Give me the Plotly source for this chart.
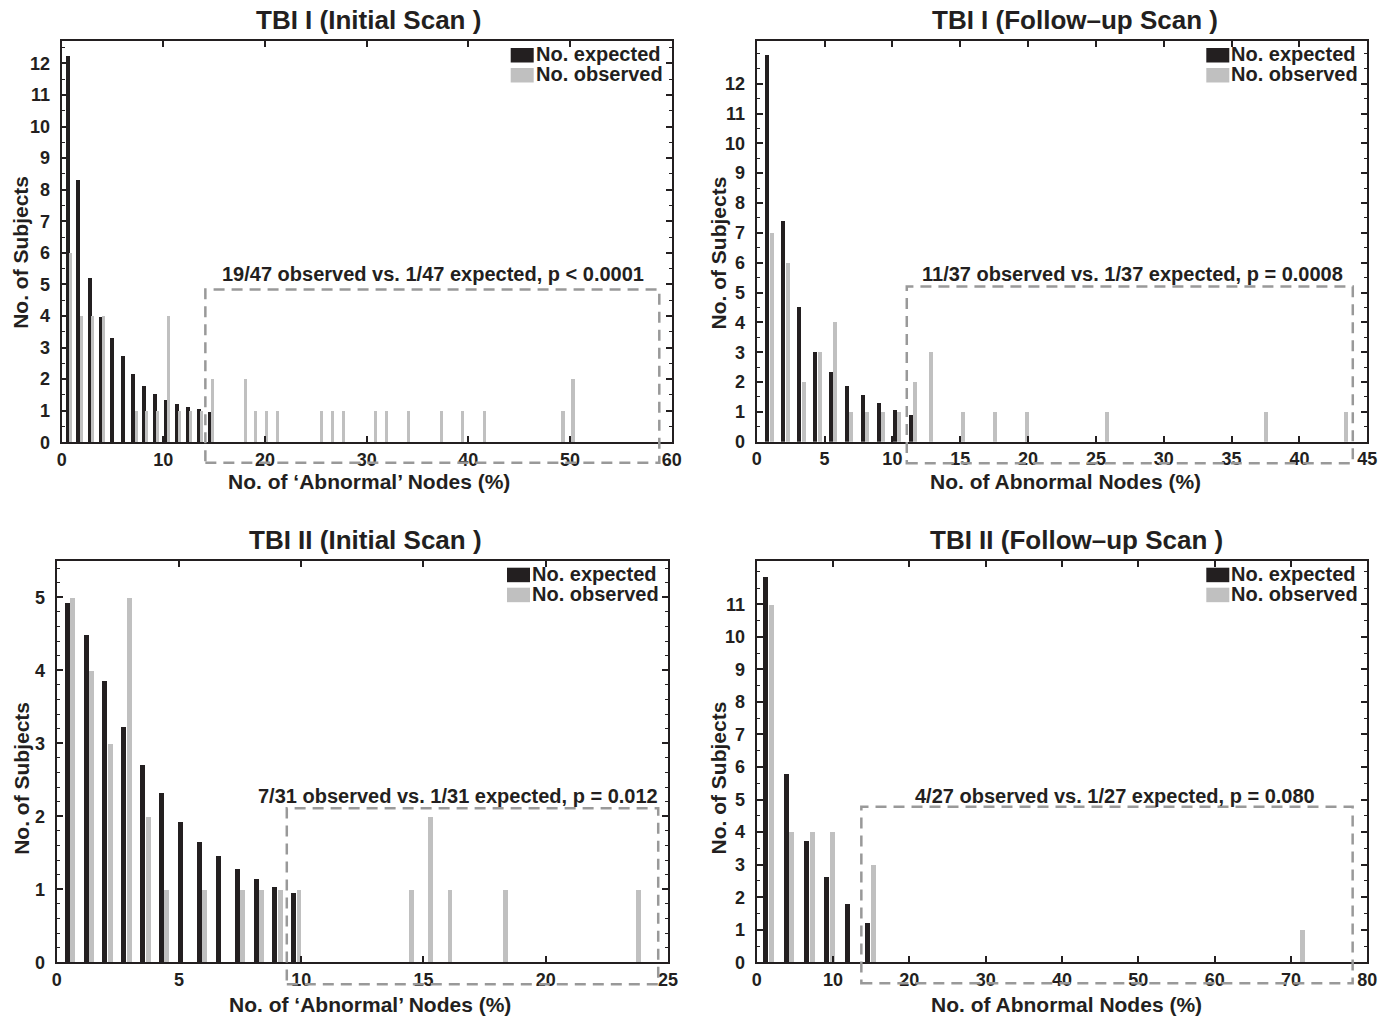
import plotly.graph_objects as go

W, H = 1391, 1017

EXP_COLOR = "#231f20"
OBS_COLOR = "#c0c0c0"
BOX_COLOR = "#999999"
AXIS_COLOR = "#231f20"
FONT = "Liberation Sans, Arial, Helvetica, sans-serif"

# ---- TBI I, initial scan (n = 47) ----
a_exp_x = [0.59, 1.61, 2.72, 3.80, 4.88, 5.97, 6.95, 8.03, 9.11, 10.20, 11.28, 12.36, 13.44, 14.52]
a_exp_y = [12.23, 8.31, 5.20, 3.97, 3.30, 2.73, 2.16, 1.78, 1.53, 1.34, 1.21, 1.12, 1.06, 0.96]
a_obs_x = [0.82, 1.90, 2.98, 4.10, 7.31, 8.29, 9.38, 10.46, 11.54, 12.62, 13.74, 14.82,
           18.06, 19.05, 20.13, 21.21, 25.51, 26.62, 27.70, 30.82, 31.90, 34.06, 37.31,
           39.41, 41.54, 49.28, 50.26]
a_obs_y = [6, 4, 4, 4, 1, 1, 1, 4, 1, 1, 1, 2, 2, 1, 1, 1, 1, 1, 1, 1, 1, 1, 1, 1, 1, 1, 2]

# ---- TBI I, follow-up scan (n = 37) ----
b_exp_x = [0.74, 1.92, 3.10, 4.28, 5.45, 6.63, 7.81, 8.99, 10.17, 11.35]
b_exp_y = [12.96, 7.40, 4.51, 3.01, 2.34, 1.87, 1.56, 1.30, 1.06, 0.89]
b_obs_x = [1.11, 2.28, 3.46, 4.64, 5.75, 6.93, 8.11, 9.29, 10.47, 11.65, 12.83,
           15.18, 17.54, 19.90, 25.80, 37.52, 43.39]
b_obs_y = [7, 6, 2, 3, 4, 1, 1, 1, 1, 2, 3, 1, 1, 1, 1, 1, 1]

# ---- TBI II, initial scan (n = 31) ----
c_exp_x = [0.44, 1.21, 1.95, 2.72, 3.50, 4.27, 5.05, 5.82, 6.60, 7.37, 8.15, 8.88, 9.66]
c_exp_y = [4.92, 4.48, 3.85, 3.23, 2.71, 2.32, 1.92, 1.65, 1.46, 1.28, 1.14, 1.03, 0.96]
c_obs_x = [0.64, 1.41, 2.19, 2.97, 3.74, 4.48, 6.03, 7.58, 8.35, 9.13, 9.90,
           14.50, 15.28, 16.07, 18.35, 23.77]
c_obs_y = [5, 4, 3, 5, 2, 1, 1, 1, 1, 1, 1, 1, 2, 1, 1, 1]

# ---- TBI II, follow-up scan (n = 27) ----
d_exp_x = [1.14, 3.89, 6.51, 9.13, 11.88, 14.50]
d_exp_y = [11.84, 5.79, 3.73, 2.62, 1.79, 1.21]
d_obs_x = [1.92, 4.54, 7.29, 9.91, 15.28, 71.49]
d_obs_y = [11, 4, 4, 4, 3, 1]

titles = ["TBI I (Initial Scan )", "TBI I (Follow\u2013up Scan )",
          "TBI II (Initial Scan )", "TBI II (Follow\u2013up Scan )"]
x_titles = ["No. of \u2018Abnormal\u2019 Nodes (%)", "No. of Abnormal Nodes (%)",
            "No. of \u2018Abnormal\u2019 Nodes (%)", "No. of Abnormal Nodes (%)"]
y_title = "No. of Subjects"
test_labels = ["19/47 observed vs. 1/47 expected, p &lt; 0.0001",
               "11/37 observed vs. 1/37 expected, p = 0.0008",
               "7/31 observed vs. 1/31 expected, p = 0.012",
               "4/27 observed vs. 1/27 expected, p = 0.080"]

# tail region boxes in data units: x0, x1, y0, y1
tail_boxes = [(14.13, 58.78, -0.65, 4.84),
              (11.06, 43.93, -0.72, 5.20),
              (9.41, 24.60, -0.30, 2.11),
              (13.71, 78.08, -0.645, 4.78)]
# label anchor (x centre, y centre) in data units
label_pos = [(36.55, 5.33), (27.70, 5.61), (16.43, 2.28), (46.9, 5.12)]

x_ranges = [(0, 60), (0, 45), (0, 25), (0, 80)]
y_ranges = [(0, 12.71), (0, 13.43), (0, 5.5), (0, 12.34)]
x_ticks = [list(range(0, 61, 10)), list(range(0, 46, 5)),
           list(range(0, 26, 5)), list(range(0, 81, 10))]
y_ticks = [list(range(0, 13)), list(range(0, 13)), list(range(0, 6)), list(range(0, 12))]
y_minor = [0.5, 0.5, 0.2, 0.5]

exp_widths = [0.38, 0.31, 0.20, 0.64]
obs_widths = [0.34, 0.29, 0.19, 0.60]

# plot-area boxes in pixels (left, top, right, bottom)
boxes_px = [(61.7, 41.0, 671.7, 442.3),
            (756.7, 41.0, 1367.3, 441.7),
            (56.7, 560.7, 668.0, 962.3),
            (756.7, 560.7, 1367.3, 962.3)]
# text placement in pixels
title_cx = [368.3, 1074.8, 365.8, 1076.7]
xtitle_c = [(369.2, 481.7), (1065.5, 481.5), (370.2, 1004.5), (1066.3, 1004.0)]
ytitle_c = [(20.8, 252.0), (717.5, 253.0), (20.8, 778.0), (717.5, 778.0)]

series = [(a_exp_x, a_exp_y, a_obs_x, a_obs_y),
          (b_exp_x, b_exp_y, b_obs_x, b_obs_y),
          (c_exp_x, c_exp_y, c_obs_x, c_obs_y),
          (d_exp_x, d_exp_y, d_obs_x, d_obs_y)]

fig = go.Figure()
shapes, annotations = [], []
layout_axes = {}


def bold(size):
    return dict(family=FONT, size=size, color="#231f20", weight="bold")


def paper_text(text, px, py, size, angle=0, anchor="center"):
    return dict(text=text, x=px / W, y=1 - py / H, xref="paper", yref="paper",
                xanchor=anchor, yanchor="middle", showarrow=False,
                textangle=angle, font=bold(size))


for i in range(4):
    n = "" if i == 0 else str(i + 1)
    xa, ya = "x" + n, "y" + n
    ex, ey, ox, oy = series[i]
    fig.add_trace(go.Bar(x=ex, y=ey, width=exp_widths[i], name="No. expected",
                         marker=dict(color=EXP_COLOR, line_width=0),
                         xaxis=xa, yaxis=ya, showlegend=False))
    fig.add_trace(go.Bar(x=ox, y=oy, width=obs_widths[i], name="No. observed",
                         marker=dict(color=OBS_COLOR, line_width=0),
                         xaxis=xa, yaxis=ya, showlegend=False))

    l, t, r, b = boxes_px[i]
    common = dict(showline=True, linecolor=AXIS_COLOR, linewidth=2, mirror="ticks",
                  ticks="inside", ticklen=6, tickwidth=1.5, tickcolor=AXIS_COLOR,
                  showgrid=False, zeroline=False, tickfont=bold(18), automargin=False)
    layout_axes["xaxis" + n] = dict(
        common, domain=[l / W, r / W], range=list(x_ranges[i]), anchor=ya,
        tickmode="array", tickvals=x_ticks[i])
    layout_axes["yaxis" + n] = dict(
        common, domain=[1 - b / H, 1 - t / H], range=list(y_ranges[i]), anchor=xa,
        tickmode="array", tickvals=y_ticks[i], ticklabelstandoff=6,
        minor=dict(tickmode="linear", tick0=0, dtick=y_minor[i], ticks="inside",
                   ticklen=3, tickwidth=1, tickcolor=AXIS_COLOR))

    # axis titles
    annotations.append(paper_text(x_titles[i], *xtitle_c[i], 21))
    annotations.append(paper_text(y_title, *ytitle_c[i], 21, angle=-90))

    # dashed box around the tail of the observed distribution
    x0, x1, y0, y1 = tail_boxes[i]
    xr, yr = x_ranges[i], y_ranges[i]
    shapes.append(dict(
        type="rect", xref=xa + " domain", yref=ya + " domain",
        x0=(x0 - xr[0]) / (xr[1] - xr[0]), x1=(x1 - xr[0]) / (xr[1] - xr[0]),
        y0=(y0 - yr[0]) / (yr[1] - yr[0]), y1=(y1 - yr[0]) / (yr[1] - yr[0]),
        line=dict(color=BOX_COLOR, width=2.5, dash="11px,7px"),
        fillcolor="rgba(0,0,0,0)", layer="above"))

    lx, ly = label_pos[i]
    annotations.append(dict(text=test_labels[i], x=lx, y=ly, xref=xa, yref=ya,
                            xanchor="center", yanchor="middle", showarrow=False,
                            font=bold(20)))

    # panel title
    annotations.append(paper_text(titles[i], title_cx[i], t - 21, 26))

    # legend: swatches and labels in the upper-right corner
    sw_l = r - 161
    for k, (lab, col) in enumerate([("No. expected", EXP_COLOR), ("No. observed", OBS_COLOR)]):
        top = t + 7 + k * 20
        shapes.append(dict(type="rect", xref="paper", yref="paper",
                           x0=sw_l / W, x1=(sw_l + 23) / W,
                           y0=1 - (top + 14.5) / H, y1=1 - top / H,
                           fillcolor=col, line=dict(width=0), layer="above"))
        annotations.append(paper_text(lab, sw_l + 23, top + 6, 20, anchor="left"))

fig.update_layout(
    width=W, height=H,
    margin=dict(l=0, r=0, t=0, b=0),
    paper_bgcolor="white", plot_bgcolor="white",
    barmode="overlay", bargap=0,
    font=dict(family=FONT, color="#231f20"),
    shapes=shapes, annotations=annotations,
    **layout_axes,
)

fig.write_html("out.html")
